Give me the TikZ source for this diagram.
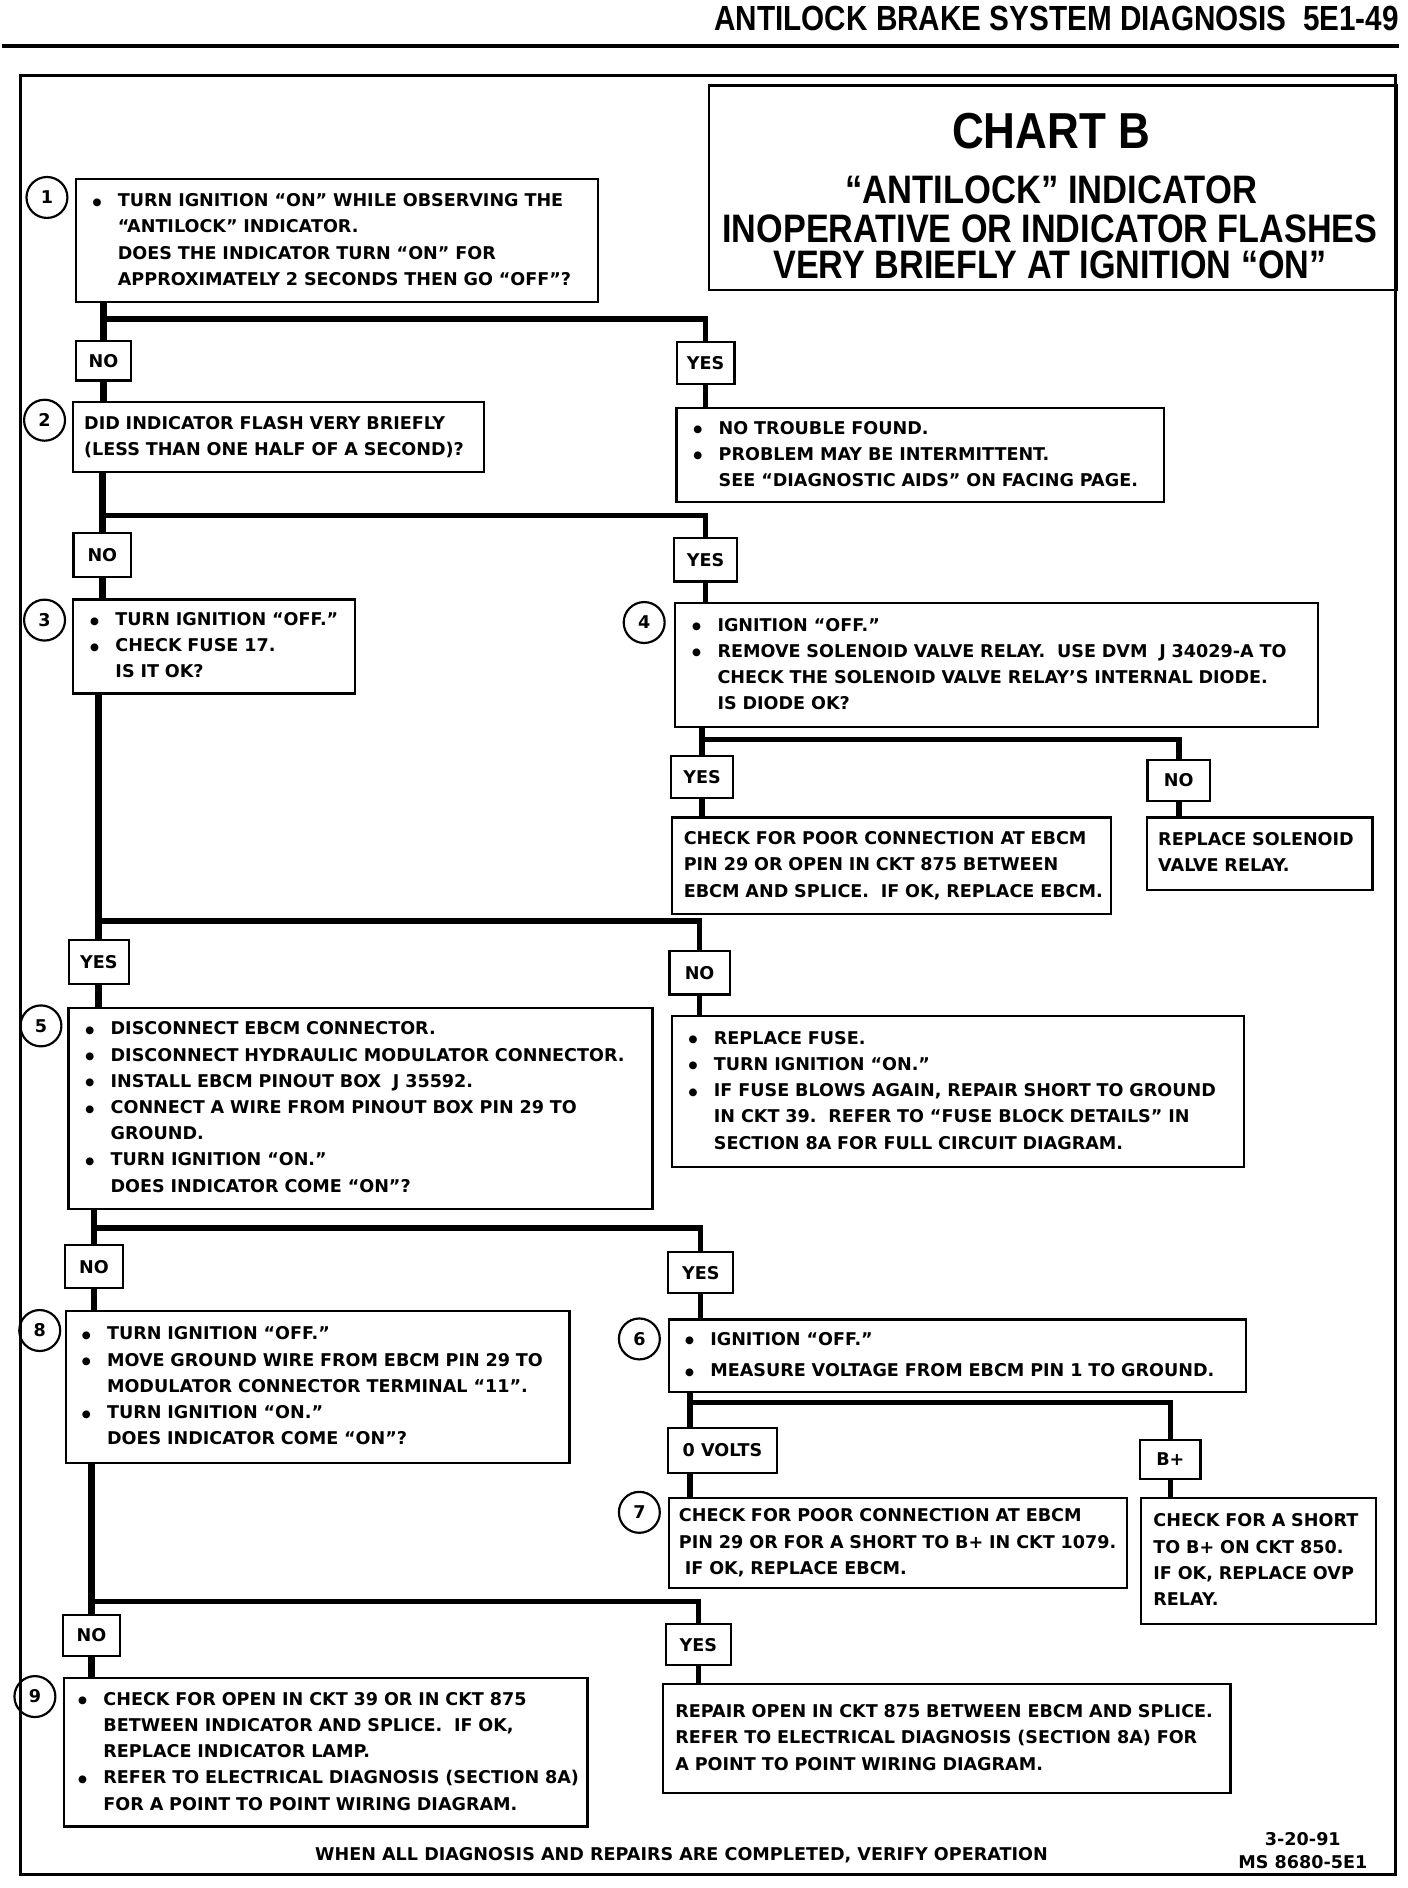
\documentclass[tikz,border=0pt]{standalone}
\usepackage{fontspec}
\usepackage{graphicx}
\setmainfont{DejaVu Sans}
\newfontfamily\ttlfont{Liberation Sans}
\newcommand{\bodyfs}{\fontsize{14.6}{21.8}\selectfont\bfseries}
\newcommand{\bl}{\makebox[21pt][l]{\raisebox{1.2pt}{\fontsize{8.5}{8.5}\selectfont ●}}}
\newcommand{\ct}{\hspace*{21pt}}
\newcommand{\tb}[1]{\begin{tabular}{@{}l@{}}#1\end{tabular}}
\tikzset{
  box/.style={draw, line width=1.8pt, anchor=north west, inner ysep=0pt, font=\bodyfs},
  lbl/.style={draw, line width=1.8pt, inner sep=0pt, font=\bodyfs},
  num/.style={draw, circle, line width=1.8pt, minimum size=34pt, inner sep=0pt, font=\bodyfs},
  trunk/.style={line width=5.5pt},
  branch/.style={line width=4.5pt},
}
\begin{document}
\begin{tikzpicture}[x=1pt,y=-1pt]
\useasboundingbox (0,0) rectangle (1169,1568);

% header
\node[anchor=base east, inner sep=0pt] (hdr) at (1162,25)
  {\ttlfont\bfseries\fontsize{29}{32}\selectfont\scalebox{0.85}[1]{ANTILOCK BRAKE SYSTEM DIAGNOSIS\ \ 5E1-49}};
\draw[line width=3pt] (2,38) -- (1162,38);

% outer frame
\draw[line width=2.5pt] (17,63) rectangle (1159,1557);

% title
\node[draw, line width=2pt, anchor=north west, minimum width=571pt, minimum height=170pt, inner sep=0pt] (title) at (588,70) {};
\node[anchor=base, inner sep=0pt] (t1) at (873,123) {\ttlfont\bfseries\fontsize{42}{46}\selectfont\scalebox{0.87}[1]{CHART B}};
\node[anchor=base, inner sep=0pt] (t2) at (873,169) {\ttlfont\bfseries\fontsize{33}{36}\selectfont\scalebox{0.87}[1]{“ANTILOCK” INDICATOR}};
\node[anchor=base, inner sep=0pt] (t3) at (872,201) {\ttlfont\bfseries\fontsize{33}{36}\selectfont\scalebox{0.86}[1]{INOPERATIVE OR INDICATOR FLASHES}};
\node[anchor=base, inner sep=0pt] (t4) at (872,231) {\ttlfont\bfseries\fontsize{33}{36}\selectfont\scalebox{0.86}[1]{VERY BRIEFLY AT IGNITION “ON”}};

% step 1
\node[num] (c1) at (39,164) {1};
\node[box, minimum width=434pt, minimum height=102pt, inner xsep=14pt, text width=406pt] (B1) at (62,148)
  {\tb{\bl TURN IGNITION “ON” WHILE OBSERVING THE\\ \ct “ANTILOCK” INDICATOR.\\ \ct DOES THE INDICATOR TURN “ON” FOR\\ \ct APPROXIMATELY 2 SECONDS THEN GO “OFF”?}};
\node[lbl, minimum width=46pt, minimum height=33pt] (N1) at (86,299.5) {NO};
\node[lbl, minimum width=48pt, minimum height=35pt] (Y1) at (586,301.5) {YES};
\node[box, minimum width=405pt, minimum height=78pt, inner xsep=14pt, text width=377pt] (R1) at (561,338)
  {\tb{\bl NO TROUBLE FOUND.\\ \bl PROBLEM MAY BE INTERMITTENT.\\ \ct SEE “DIAGNOSTIC AIDS” ON FACING PAGE.}};

% step 2
\node[num] (c2) at (37,349) {2};
\node[box, minimum width=341pt, minimum height=58pt, inner xsep=9pt, text width=323pt] (B2) at (60,333)
  {\tb{DID INDICATOR FLASH VERY BRIEFLY\\ (LESS THAN ONE HALF OF A SECOND)?}};
\node[lbl, minimum width=48pt, minimum height=36pt] (N2) at (85,461) {NO};
\node[lbl, minimum width=52pt, minimum height=36pt] (Y2) at (586,465) {YES};

% step 3
\node[num] (c3) at (37,515) {3};
\node[box, minimum width=234pt, minimum height=78pt, inner xsep=14pt, text width=206pt] (B3) at (60,497)
  {\tb{\bl TURN IGNITION “OFF.”\\ \bl CHECK FUSE 17.\\ \ct IS IT OK?}};

% step 4
\node[num] (c4) at (535,517) {4};
\node[box, minimum width=534pt, minimum height=103pt, inner xsep=14pt, text width=506pt] (B4) at (560,500)
  {\tb{\bl IGNITION “OFF.”\\ \bl REMOVE SOLENOID VALVE RELAY.\ \ USE DVM\ \ J 34029-A TO\\ \ct CHECK THE SOLENOID VALVE RELAY’S INTERNAL DIODE.\\ \ct IS DIODE OK?}};
\node[lbl, minimum width=52pt, minimum height=35pt] (Y4) at (583,645.5) {YES};
\node[lbl, minimum width=52pt, minimum height=34pt] (N4) at (979,648) {NO};
\node[box, minimum width=365pt, minimum height=80pt, inner xsep=10pt, text width=345pt] (R4y) at (557,678)
  {\tb{CHECK FOR POOR CONNECTION AT EBCM\\ PIN 29 OR OPEN IN CKT 875 BETWEEN\\ EBCM AND SPLICE.\ \ IF OK, REPLACE EBCM.}};
\node[box, minimum width=187pt, minimum height=60pt, inner xsep=9pt, text width=169pt] (R4n) at (952,678)
  {\tb{REPLACE SOLENOID\\ VALVE RELAY.}};

% decision 3 outputs
\node[lbl, minimum width=50pt, minimum height=36pt] (Y3) at (82,799) {YES};
\node[lbl, minimum width=50pt, minimum height=36pt] (N3) at (581,808) {NO};

% step 5
\node[num] (c5) at (34,852) {5};
\node[box, minimum width=485pt, minimum height=167pt, inner xsep=14pt, text width=457pt] (B5) at (56,836)
  {\tb{\bl DISCONNECT EBCM CONNECTOR.\\ \bl DISCONNECT HYDRAULIC MODULATOR CONNECTOR.\\ \bl INSTALL EBCM PINOUT BOX\ \ J 35592.\\ \bl CONNECT A WIRE FROM PINOUT BOX PIN 29 TO\\ \ct GROUND.\\ \bl TURN IGNITION “ON.”\\ \ct DOES INDICATOR COME “ON”?}};
\node[box, minimum width=475pt, minimum height=125pt, inner xsep=14pt, text width=447pt] (R3n) at (557,843)
  {\tb{\bl REPLACE FUSE.\\ \bl TURN IGNITION “ON.”\\ \bl IF FUSE BLOWS AGAIN, REPAIR SHORT TO GROUND\\ \ct IN CKT 39.\ \ REFER TO “FUSE BLOCK DETAILS” IN\\ \ct SECTION 8A FOR FULL CIRCUIT DIAGRAM.}};

\node[lbl, minimum width=48pt, minimum height=36pt] (N5) at (78,1052) {NO};
\node[lbl, minimum width=54pt, minimum height=34pt] (Y5) at (582,1057) {YES};

% step 8
\node[num] (c8) at (33,1105) {8};
\node[box, minimum width=418pt, minimum height=126pt, inner xsep=13pt, text width=392pt] (B8) at (54,1088)
  {\tb{\bl TURN IGNITION “OFF.”\\ \bl MOVE GROUND WIRE FROM EBCM PIN 29 TO\\ \ct MODULATOR CONNECTOR TERMINAL “11”.\\ \bl TURN IGNITION “ON.”\\ \ct DOES INDICATOR COME “ON”?}};

% step 6
\node[num] (c6) at (531,1112) {6};
\node[box, minimum width=479pt, minimum height=60pt, inner xsep=13pt, text width=453pt] (B6) at (555,1095)
  {\tb{\bl IGNITION “OFF.”\\[4pt] \bl MEASURE VOLTAGE FROM EBCM PIN 1 TO GROUND.}};
\node[lbl, minimum width=90pt, minimum height=37pt] (V0) at (600,1204.5) {0 VOLTS};
\node[lbl, minimum width=50pt, minimum height=32pt] (VB) at (972,1212) {B+};

% step 7
\node[num] (c7) at (531,1256) {7};
\node[box, minimum width=380pt, minimum height=75pt, inner xsep=8pt, text width=364pt] (B7) at (555,1243)
  {\tb{CHECK FOR POOR CONNECTION AT EBCM\\ PIN 29 OR FOR A SHORT TO B+ IN CKT 1079.\\ \ IF OK, REPLACE EBCM.}};
\node[box, minimum width=195pt, minimum height=105pt, inner xsep=10pt, text width=175pt] (RB) at (947,1243)
  {\tb{CHECK FOR A SHORT\\ TO B+ ON CKT 850.\\ IF OK, REPLACE OVP\\ RELAY.}};

\node[lbl, minimum width=48pt, minimum height=34pt] (N8) at (76,1358) {NO};
\node[lbl, minimum width=54pt, minimum height=34pt] (Y8) at (580,1366) {YES};

% step 9
\node[num] (c9) at (29,1409) {9};
\node[box, minimum width=435pt, minimum height=123pt, inner xsep=12pt, text width=411pt] (B9) at (52,1393)
  {\tb{\bl CHECK FOR OPEN IN CKT 39 OR IN CKT 875\\ \ct BETWEEN INDICATOR AND SPLICE.\ \ IF OK,\\ \ct REPLACE INDICATOR LAMP.\\ \bl REFER TO ELECTRICAL DIAGNOSIS (SECTION 8A)\\ \ct FOR A POINT TO POINT WIRING DIAGRAM.}};
\node[box, minimum width=471pt, minimum height=90pt, inner xsep=10pt, text width=451pt] (R8) at (550,1398)
  {\tb{REPAIR OPEN IN CKT 875 BETWEEN EBCM AND SPLICE.\\ REFER TO ELECTRICAL DIAGNOSIS (SECTION 8A) FOR\\ A POINT TO POINT WIRING DIAGRAM.}};

% footer
\node[anchor=base, inner sep=0pt, font=\bodyfs] (foot) at (566,1545) {WHEN ALL DIAGNOSIS AND REPAIRS ARE COMPLETED, VERIFY OPERATION};
\node[anchor=base, inner sep=0pt, font=\bodyfs] (date) at (1082,1533) {3-20-91};
\node[anchor=base, inner sep=0pt, font=\bodyfs] (ms) at (1082,1552) {MS 8680-5E1};

% connectors
\coordinate (j1) at (N1 |- 0,265);
\draw[trunk] (B1.south -| N1) -- (N1.north);
\draw[trunk] (N1.south) -- (B2.north -| N1);
\draw[branch] (j1) -| (Y1.north);
\draw[branch] (Y1.south) -- (R1.north -| Y1);

\coordinate (j2) at (N2 |- 0,428);
\draw[trunk] (B2.south -| N2) -- (N2.north);
\draw[trunk] (N2.south) -- (B3.north -| N2);
\draw[branch] (j2) -| (Y2.north);
\draw[branch] (Y2.south) -- (B4.north -| Y2);

\coordinate (j4) at (Y4 |- 0,614);
\draw[branch] (B4.south -| Y4) -- (Y4.north);
\draw[branch] (j4) -| (N4.north);
\draw[branch] (Y4.south) -- (R4y.north -| Y4);
\draw[branch] (N4.south) -- (R4n.north -| N4);

\coordinate (j3) at (Y3 |- 0,765);
\draw[trunk] (B3.south -| Y3) -- (Y3.north);
\draw[trunk] (Y3.south) -- (B5.north -| Y3);
\draw[branch] (j3) -| (N3.north);
\draw[branch] (N3.south) -- (R3n.north -| N3);

\coordinate (j5) at (N5 |- 0,1020);
\draw[trunk] (B5.south -| N5) -- (N5.north);
\draw[trunk] (N5.south) -- (B8.north -| N5);
\draw[branch] (j5) -| (Y5.north);
\draw[branch] (Y5.south) -- (B6.north -| Y5);

\coordinate (j6) at (573,1165);
\draw[branch] (B6.south -| j6) -- (V0.north -| j6);
\draw[branch] (j6) -| (VB.north);
\draw[branch] (V0.south -| j6) -- (B7.north -| j6);
\draw[branch] (VB.south) -- (RB.north -| VB);

\coordinate (j8) at (N8 |- 0,1330);
\draw[trunk] (B8.south -| N8) -- (N8.north);
\draw[trunk] (N8.south) -- (B9.north -| N8);
\draw[branch] (j8) -| (Y8.north);
\draw[branch] (Y8.south) -- (R8.north -| Y8);
\end{tikzpicture}
\end{document}
